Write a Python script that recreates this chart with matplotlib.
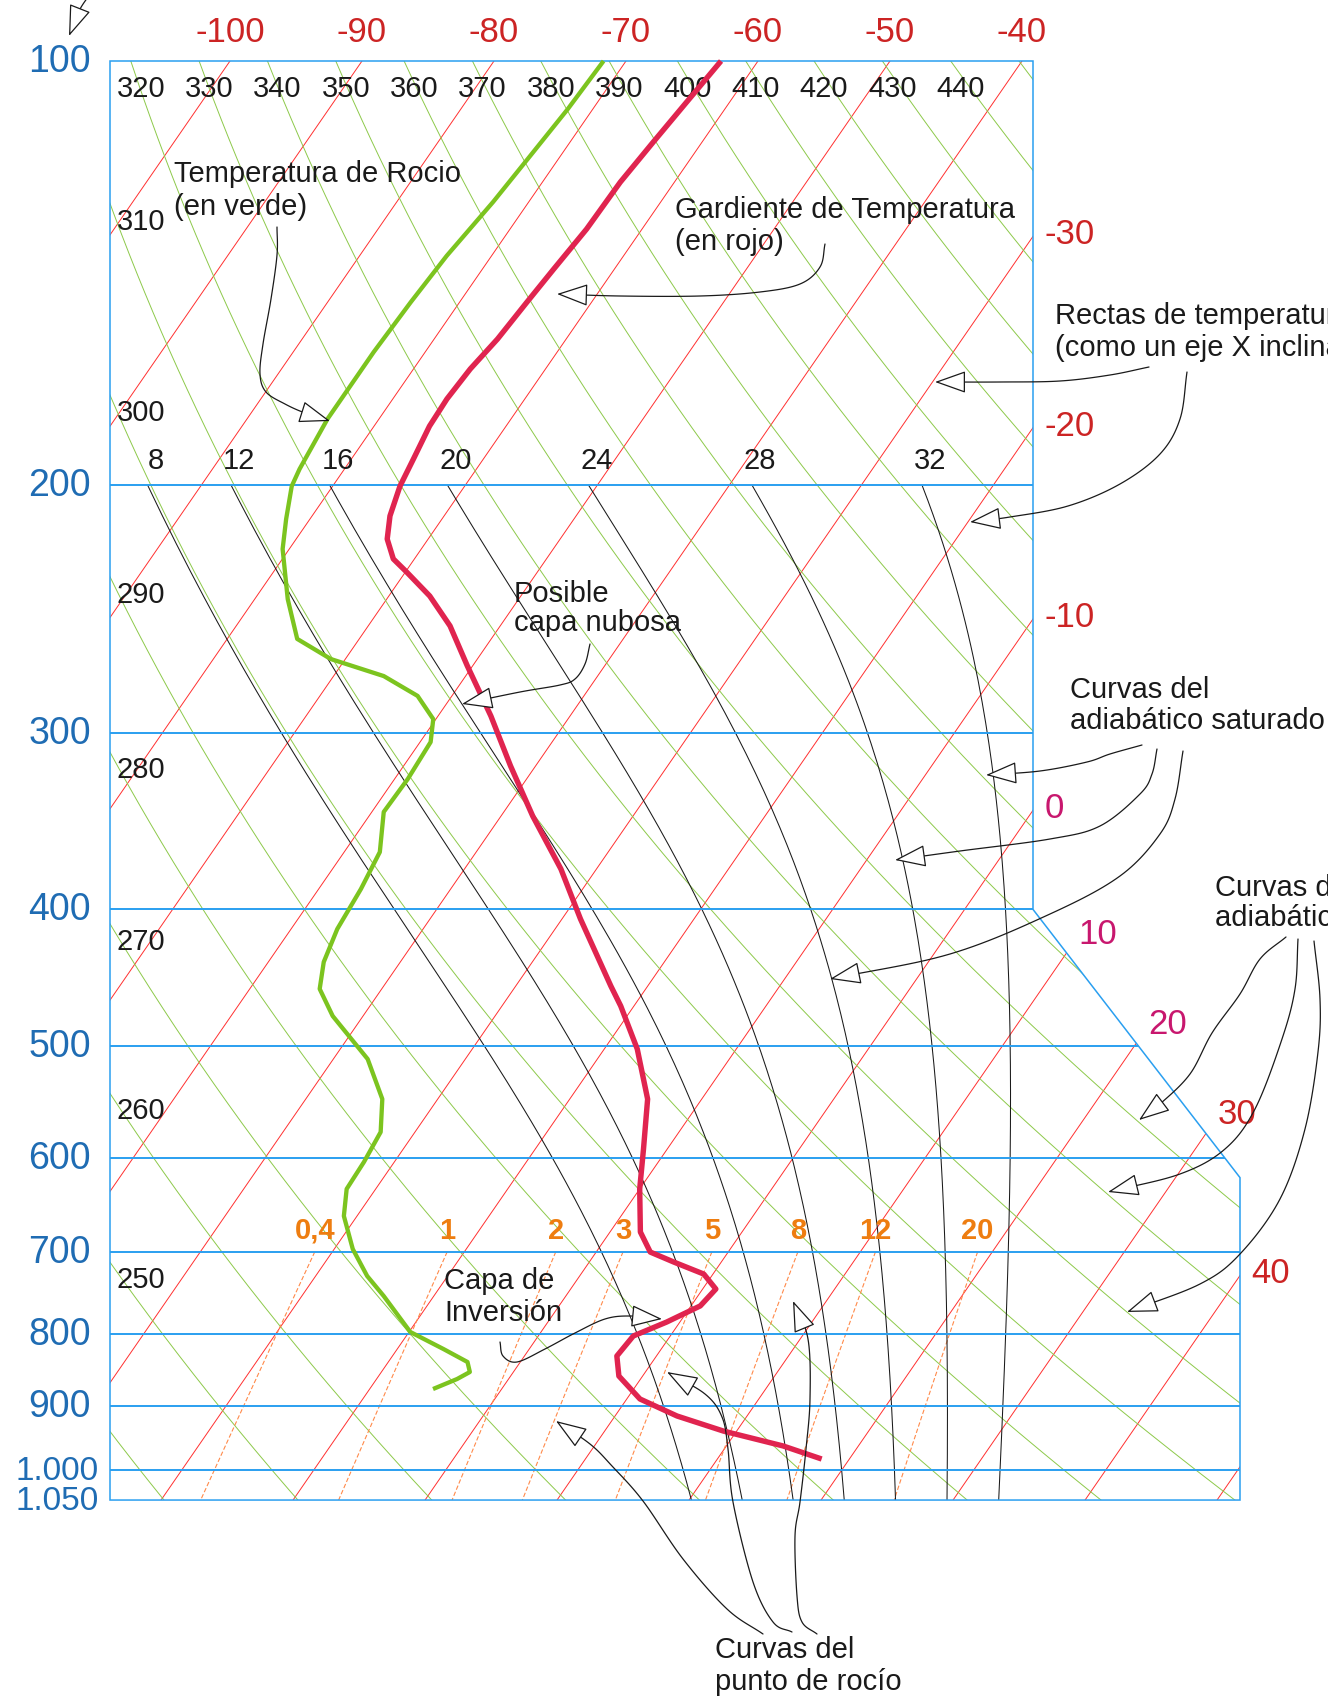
import numpy as np
import matplotlib
matplotlib.use("Agg")
import matplotlib.pyplot as plt
from matplotlib.transforms import Affine2D, blended_transform_factory
from matplotlib.patches import Polygon, FancyArrowPatch
from matplotlib.path import Path

plt.rcParams['font.family'] = ['Liberation Sans', 'DejaVu Sans']

# ----------------------------------------------------------------------
# Sondeo: presión (hPa) y temperatura (°C)
# ----------------------------------------------------------------------

temp_p = [100, 107.6, 114.2, 121.9, 131.6, 140.5, 148.3, 157.5, 165.4, 173.7,
          181.6, 191.6, 200.3, 210.3, 218.4, 225.6, 230.5, 239.7, 251.7, 268.7,
          291.6, 316.4, 343.4, 374.4, 406.3, 453.3, 468.4, 502.5, 545.3, 591.7,
          631.6, 677.6, 700.2, 711.7, 725.8, 743.8, 764.6, 785.0, 803.1, 829.8,
          857.4, 890.2, 915.3, 938.1, 961.2, 981.9]
temp_c = [-62.8, -63.3, -63.7, -64.1, -64.2, -64.6, -64.9, -65.2, -65.7, -65.9,
          -65.8, -65.3, -64.9, -64.1, -63.1, -61.6, -59.9, -56.9, -53.8, -50.4,
          -46.0, -41.9, -37.6, -32.7, -28.6, -22.8, -21.0, -17.5, -14.1, -11.8,
          -10.0, -7.7, -5.9, -3.6, -0.7, 1.0, 0.7, -1.0, -2.8, -3.0,
          -1.8, 1.0, 4.7, 9.0, 14.3, 17.9]

rocio_p = [100, 108.2, 116.8, 125.9, 137.5, 148.3, 160.9, 172.9, 179.5, 194.8,
           200.3, 211.4, 222.0, 240.9, 257.1, 265.7, 273.2, 282.2, 293.1, 304.3,
           323.2, 341.1, 364.2, 386.9, 413.0, 435.9, 455.5, 476.1, 510.8, 545.3,
           575.5, 604.4, 631.6, 660.1, 696.7, 728.1, 752.3, 797.9, 820.4, 838.0,
           851.8, 861.6, 875.8]
rocio_c = [-71.7, -71.9, -72.3, -72.7, -73.4, -73.7, -73.9, -73.9, -73.9, -73.4,
           -73.1, -71.8, -70.5, -67.5, -64.7, -61.1, -56.2, -52.6, -50.2, -49.2,
           -49.0, -49.1, -47.3, -46.8, -46.5, -45.8, -44.7, -42.3, -37.4, -34.2,
           -32.6, -32.3, -32.2, -31.0, -28.6, -26.1, -23.8, -19.9, -16.5, -14.0,
           -13.3, -13.9, -15.2]

# Ejes del diagrama
niveles_p = [100, 200, 300, 400, 500, 600, 700, 800, 900, 1000, 1050]
etiquetas_p = ["100", "200", "300", "400", "500", "600", "700", "800", "900",
               "1.000", "1.050"]

isotermas = list(range(-110, 60, 10))
iso_arriba = [-100, -90, -80, -70, -60, -50, -40]
iso_lado = [-30, -20, -10, 0, 10, 20, 30, 40]

theta_secas = list(range(230, 470, 10))
theta_arriba = [320, 330, 340, 350, 360, 370, 380, 390, 400, 410, 420, 430, 440]
theta_izq = [310, 300, 290, 280, 270, 260, 250]

theta_w = [8, 12, 16, 20, 24, 28, 32]

razon_mezcla = [0.4, 1, 2, 3, 5, 8, 12, 20]
razon_txt = ["0,4", "1", "2", "3", "5", "8", "12", "20"]

# ----------------------------------------------------------------------
# Colores
# ----------------------------------------------------------------------

AZUL = '#2a9ff0'
AZUL_TXT = '#1f6cb3'
ROJO_ISO = '#ff3030'
VERDE_SECA = '#8dc94a'
NARANJA = '#ff8a4a'
NARANJA_TXT = '#ee7d10'
ROJO_TXT = '#cc2424'
MAGENTA_TXT = '#c8176e'
ROJO_SONDEO = '#e0244f'
VERDE_SONDEO = '#7cc41f'
TINTA = '#1a1a1a'

# ----------------------------------------------------------------------
# Geometría (píxeles)
# ----------------------------------------------------------------------

W, H = 1328, 1708
Y100, PX_LN = 62, 612        # altura de 100 hPa, píxeles por unidad de ln(p)
PX_C, SESGO = 13.2, 0.69     # píxeles por °C, inclinación de las isotermas
X_M100 = 230                 # -100 °C sobre la línea de 100 hPa
X_IZQ, X_DER, X_DER2 = 110, 1033, 1240

fig = plt.figure(figsize=(W / 100, H / 100), dpi=100)
ax = fig.add_axes([0, 0, 1, 1])
ax.set_yscale('log')
ax.set_ylim(100 * np.exp((H - Y100) / PX_LN), 100 * np.exp(-Y100 / PX_LN))
t0 = -100 - (X_M100 - SESGO * (H - Y100)) / PX_C
ax.set_xlim(t0, t0 + W / PX_C)
ax.axis('off')

sk = ax.transData + Affine2D().skew(np.arctan(SESGO), 0)
bt = blended_transform_factory(ax.transAxes, ax.transData)

vert_caja = [(X_IZQ / W, 100), (X_DER / W, 100), (X_DER / W, 400),
             (X_DER2 / W, 620), (X_DER2 / W, 1050), (X_IZQ / W, 1050)]
caja = Polygon(vert_caja, closed=True, fill=False, ec=AZUL, lw=1.1,
               transform=bt, zorder=3)
ax.add_patch(caja)

# ----------------------------------------------------------------------
# Rejilla
# ----------------------------------------------------------------------

for p in niveles_p[1:-1]:
    ax.plot([X_IZQ / W, X_DER2 / W], [p, p], color=AZUL, lw=1.4,
            transform=bt, clip_path=caja, zorder=3)

for t in isotermas:
    ax.plot([t, t], [1050, 100], color=ROJO_ISO, lw=0.7,
            transform=sk, clip_path=caja, zorder=1)

pp = np.geomspace(100, 1050, 150)
for th in theta_secas:
    ax.plot(th * (pp / 1000) ** 0.286 - 273.15, pp, color=VERDE_SECA, lw=0.7,
            transform=sk, clip_path=caja, zorder=1)


def adiabatica_saturada(tw, presiones):
    """Integra la pseudoadiabática desde 1000 hPa (RK4)."""
    Rd, cp, Lv, eps = 287.04, 1005.7, 2.501e6, 0.622

    def pendiente(t, p):
        es = 6.112 * np.exp(17.67 * (t - 273.15) / (t - 29.65))
        rs = eps * es / (p - es)
        return (Rd * t + Lv * rs) / (p * (cp + Lv * Lv * rs * eps / (Rd * t * t)))

    t, p = tw + 273.15, 1000.0
    res = []
    for pt in presiones:
        n = max(1, int(abs(pt - p) / 2))
        h = (pt - p) / n
        for _ in range(n):
            k1 = pendiente(t, p)
            k2 = pendiente(t + h * k1 / 2, p + h / 2)
            k3 = pendiente(t + h * k2 / 2, p + h / 2)
            k4 = pendiente(t + h * k3, p + h)
            t += h * (k1 + 2 * k2 + 2 * k3 + k4) / 6
            p += h
        res.append(t - 273.15)
    return np.array(res)


p_sube = np.linspace(1000, 200, 161)
p_baja = np.linspace(1000, 1050, 11)
t_200 = []
for tw in theta_w:
    ts = adiabatica_saturada(tw, p_sube)
    tb = adiabatica_saturada(tw, p_baja)
    ax.plot(np.concatenate([tb[::-1], ts]), np.concatenate([p_baja[::-1], p_sube]),
            color=TINTA, lw=0.75, transform=sk, clip_path=caja, zorder=2)
    t_200.append(ts[-1])


def rocio_de_mezcla(w, p):
    e = p * w / (622.0 + w)
    l = np.log(e / 6.112)
    return 243.5 * l / (17.67 - l)


pm = np.geomspace(700, 1050, 30)
for w in razon_mezcla:
    ax.plot(rocio_de_mezcla(w, pm), pm, color=NARANJA, lw=0.8, ls=(0, (4, 2)),
            transform=sk, clip_path=caja, zorder=1)

# ----------------------------------------------------------------------
# Sondeo
# ----------------------------------------------------------------------

ax.plot(rocio_c, rocio_p, color=VERDE_SONDEO, lw=3.1, transform=sk,
        solid_joinstyle='round', solid_capstyle='butt', zorder=4)
ax.plot(temp_c, temp_p, color=ROJO_SONDEO, lw=3.9, transform=sk,
        solid_joinstyle='round', solid_capstyle='butt', zorder=4)

# ----------------------------------------------------------------------
# Etiquetas
# ----------------------------------------------------------------------

for p, s in zip(niveles_p, etiquetas_p):
    if '.' in s:
        ax.text(99 / W, p, s, transform=bt, ha='right', va='center',
                color=AZUL_TXT, fontsize=24)
    else:
        ax.text(91 / W, p, s, transform=bt, ha='right', va='center',
                color=AZUL_TXT, fontsize=27)

for t in iso_arriba:
    ax.annotate(str(t), xy=(t, 100), xycoords=sk, xytext=(0, 29),
                textcoords='offset pixels', ha='center', va='center',
                color=ROJO_TXT, fontsize=25)

# borde derecho de la caja en píxeles de pantalla
borde = bt.transform(np.array(vert_caja))[1:5]
y_diag = (borde[2, 1], borde[1, 1])
pd_ = np.geomspace(100, 1050, 3000)
for t in iso_lado:
    xy = sk.transform(np.column_stack([np.full_like(pd_, t), pd_]))
    xb = np.interp(xy[:, 1], borde[::-1, 1], borde[::-1, 0])
    i = int(np.argmax(xy[:, 0] <= xb))
    c = xy[i]
    en_diag = y_diag[0] < c[1] < y_diag[1]
    dy = 20 if en_diag else 3
    col = MAGENTA_TXT if t in (0, 10, 20) else ROJO_TXT
    ax.annotate(str(t), xy=(c[0], c[1]), xycoords='figure pixels',
                xytext=(12, dy), textcoords='offset pixels', ha='left',
                va='center', color=col, fontsize=25)

for th in theta_arriba:
    ax.annotate(str(th), xy=(th * 0.1 ** 0.286 - 273.15, 100), xycoords=sk,
                xytext=(10, -27), textcoords='offset pixels', ha='center',
                va='center', color=TINTA, fontsize=21)

for th in theta_izq:
    tt = th * (pp / 1000) ** 0.286 - 273.15
    xs = sk.transform(np.column_stack([tt, pp]))
    yc = np.interp(X_IZQ, xs[:, 0], xs[:, 1])
    ax.annotate(str(th), xy=(X_IZQ, yc), xycoords='figure pixels',
                xytext=(7, -17), textcoords='offset pixels', ha='left',
                va='center', color=TINTA, fontsize=21)

for tw, t2 in zip(theta_w, t_200):
    ax.annotate(str(tw), xy=(t2, 200), xycoords=sk, xytext=(8, 25),
                textcoords='offset pixels', ha='center', va='center',
                color=TINTA, fontsize=21)

for w, s in zip(razon_mezcla, razon_txt):
    ax.annotate(s, xy=(rocio_de_mezcla(w, 700), 700), xycoords=sk,
                xytext=(0, 22), textcoords='offset pixels', ha='center',
                va='center', color=NARANJA_TXT, fontsize=21, fontweight='bold')

# ----------------------------------------------------------------------
# Notas y flechas
# ----------------------------------------------------------------------

notas = [
    (174, 174, "Temperatura de Rocio"), (174, 207, "(en verde)"),
    (675, 210, "Gardiente de Temperatura"), (675, 242, "(en rojo)"),
    (1055, 316, "Rectas de temperatura"), (1055, 348, "(como un eje X inclinado)"),
    (514, 594, "Posible"), (514, 623, "capa nubosa"),
    (1070, 690, "Curvas del"), (1070, 721, "adiabático saturado"),
    (1215, 888, "Curvas del"), (1215, 918, "adiabático seco"),
    (444, 1281, "Capa de"), (444, 1313, "Inversión"),
    (715, 1650, "Curvas del"), (715, 1682, "punto de rocío"),
]
for x, y, s in notas:
    fig.text(x / W, 1 - y / H, s, ha='left', va='center', color=TINTA,
             fontsize=21, zorder=6)

flechas = [
    [(90, -5), (79, 12), (69, 37)],
    [(277, 228), (277, 256), (271, 300), (263, 345), (260, 375), (266, 393),
     (285, 405), (305, 414), (330, 422)],
    [(825, 245), (820, 268), (800, 285), (760, 293), (700, 297), (620, 297),
     (557, 295)],
    [(1149, 368), (1110, 376), (1060, 382), (1000, 383), (935, 383)],
    [(1187, 373), (1180, 420), (1160, 455), (1120, 485), (1068, 507),
     (1010, 518), (970, 523)],
    [(590, 645), (585, 665), (575, 680), (560, 686), (520, 693), (462, 705)],
    [(1142, 746), (1110, 755), (1087, 763), (1040, 772), (986, 776)],
    [(1157, 750), (1152, 775), (1140, 795), (1100, 827), (1050, 840),
     (960, 852), (895, 861)],
    [(1183, 752), (1175, 800), (1160, 835), (1120, 877), (1050, 915),
     (950, 955), (830, 980)],
    [(1286, 938), (1260, 960), (1240, 995), (1212, 1034), (1190, 1075),
     (1160, 1105), (1139, 1121)],
    [(1298, 940), (1295, 990), (1282, 1040), (1255, 1110), (1225, 1150),
     (1180, 1175), (1108, 1193)],
    [(1314, 942), (1320, 1000), (1318, 1053), (1305, 1130), (1280, 1200),
     (1240, 1255), (1200, 1285), (1127, 1313)],
    [(500, 1343), (503, 1357), (517, 1363), (545, 1350), (575, 1334),
     (605, 1320), (630, 1317), (662, 1320)],
    [(763, 1635), (727, 1610), (683, 1560), (643, 1502), (612, 1467),
     (590, 1445), (556, 1422)],
    [(792, 1633), (773, 1623), (753, 1583), (733, 1503), (728, 1450),
     (722, 1418), (705, 1395), (667, 1373)],
    [(817, 1635), (802, 1623), (797, 1597), (795, 1537), (800, 1503),
     (806, 1450), (810, 1400), (808, 1340), (793, 1302)],
]


def suave(pts, n=14):
    """Curva Catmull-Rom que pasa por los puntos de guía."""
    P = np.array(pts, float)
    P = np.vstack([2 * P[0] - P[1], P, 2 * P[-1] - P[-2]])
    out = []
    for i in range(1, len(P) - 2):
        p0, p1, p2, p3 = P[i - 1], P[i], P[i + 1], P[i + 2]
        for s in np.linspace(0, 1, n, endpoint=False):
            out.append(0.5 * (2 * p1 + (p2 - p0) * s
                              + (2 * p0 - 5 * p1 + 4 * p2 - p3) * s ** 2
                              + (3 * p1 - p0 - 3 * p2 + p3) * s ** 3))
    out.append(P[-2])
    return np.array(out)


for pts in flechas:
    q = suave(pts)
    camino = Path(np.column_stack([q[:, 0] / W, 1 - q[:, 1] / H]))
    fig.add_artist(FancyArrowPatch(
        path=camino, transform=fig.transFigure,
        arrowstyle='-|>,head_length=0.9,head_width=0.32', mutation_scale=22,
        lw=0.9, ec=TINTA, fc='white', zorder=5))

fig.savefig('out.png', dpi=100, facecolor='white')
